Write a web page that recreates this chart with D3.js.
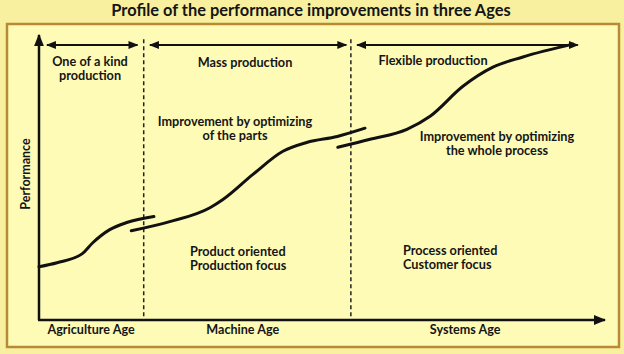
<!DOCTYPE html>
<html>
<head>
<meta charset="utf-8">
<script src="https://cdn.jsdelivr.net/npm/d3@7"></script>
<style>
  html, body { margin: 0; padding: 0; background: #f8f09f; }
  svg { display: block; }
  text { font-family: Lato, "Open Sans", sans-serif; font-weight: bold; fill: #151515; }
</style>
</head>
<body>
<div id="chart"></div>
<script>
// ages along the time axis (0-100), boundaries where the dashed lines sit
const ages = ['Agriculture Age', 'Machine Age', 'Systems Age'];
const ageCentres = [9.2, 36.0, 75.3];
const ageBounds = [18.5, 55.1];
const productionModes = ['One of a kind production', 'Mass production', 'Flexible production'];
const modeSpans = [[1.4, 17.4], [19.6, 54.3], [56.2, 95.2]];

// performance curve, one piece per age (time, performance)
const curveAgriculture = [
  [0, 18.7], [3.2, 20.1], [7.6, 23.2], [9.5, 27.1], [12.5, 31.7], [15.5, 34.2], [20.3, 36.3],
];
const curveMachine = [
  [16.3, 31.3], [23.1, 34.5], [30.2, 39.4], [32.5, 42.3], [37.8, 51.1],
  [43.1, 59.2], [47.3, 62.3], [52.7, 64.4], [57.6, 67.3],
];
const curveSystems = [
  [52.8, 60.6], [58.5, 63.4], [65.0, 66.9], [69.1, 71.5], [74.9, 82.0],
  [80.2, 88.7], [85.5, 92.3], [94.3, 96.8],
];

const width = 624, height = 354;
const svg = d3.select('#chart').append('svg')
  .attr('width', width)
  .attr('height', height);

// frame
svg.append('rect')
  .attr('x', 7).attr('y', 24)
  .attr('width', 612).attr('height', 323)
  .attr('fill', '#fefbb7')
  .attr('stroke', '#b98a35')
  .attr('stroke-width', 2.5);

svg.append('text')
  .attr('x', 311).attr('y', 16)
  .attr('text-anchor', 'middle')
  .style('font-size', '16.4px')
  .text('Profile of the performance improvements in three Ages');

const defs = svg.append('defs');
defs.append('marker')
  .attr('id', 'head')
  .attr('viewBox', '0 0 10 10')
  .attr('refX', 9).attr('refY', 5)
  .attr('markerWidth', 5).attr('markerHeight', 5)
  .attr('markerUnits', 'strokeWidth')
  .attr('orient', 'auto-start-reverse')
  .append('path')
  .attr('d', 'M0,1 L10,5 L0,9 Z')
  .attr('fill', '#111');

// scales
const x = d3.scaleLinear().domain([0, 100]).range([39, 605]);
const y = d3.scaleLinear().domain([0, 100]).range([320, 35]);

// axes, drawn as plain arrows
svg.append('line')
  .attr('x1', x(0)).attr('y1', y(0))
  .attr('x2', x(0)).attr('y2', y(100))
  .attr('stroke', '#111').attr('stroke-width', 2.5)
  .attr('marker-end', 'url(#head)');
svg.append('line')
  .attr('x1', x(0) - 1).attr('y1', y(0))
  .attr('x2', x(100)).attr('y2', y(0))
  .attr('stroke', '#111').attr('stroke-width', 2.5)
  .attr('marker-end', 'url(#head)');

// dashed age boundaries
svg.selectAll('.bound')
  .data(ageBounds)
  .enter()
  .append('line')
  .attr('class', 'bound')
  .attr('x1', d => x(d)).attr('x2', d => x(d))
  .attr('y1', y(98.5)).attr('y2', y(0))
  .attr('stroke', '#222')
  .attr('stroke-width', 1.5)
  .attr('stroke-dasharray', '4,3');

// double arrows for production modes
svg.selectAll('.span')
  .data(modeSpans)
  .enter()
  .append('line')
  .attr('class', 'span')
  .attr('x1', d => x(d[0])).attr('x2', d => x(d[1]))
  .attr('y1', y(96.5)).attr('y2', y(96.5))
  .attr('stroke', '#111')
  .attr('stroke-width', 2)
  .attr('marker-start', 'url(#head)')
  .attr('marker-end', 'url(#head)');

// curve
const line = d3.line()
  .x(d => x(d[0]))
  .y(d => y(d[1]))
  .curve(d3.curveMonotoneX);

svg.selectAll('.curve')
  .data([curveAgriculture, curveMachine, curveSystems])
  .enter()
  .append('path')
  .attr('class', 'curve')
  .attr('d', line)
  .attr('fill', 'none')
  .attr('stroke', '#111')
  .attr('stroke-width', 3)
  .attr('stroke-linecap', 'round');

// text labels
function label(lines, px, py, anchor) {
  const t = svg.append('text')
    .attr('x', px).attr('y', py)
    .attr('text-anchor', anchor || 'middle')
    .style('font-size', '12.7px');
  lines.forEach((s, i) => {
    t.append('tspan')
      .attr('x', px)
      .attr('dy', i === 0 ? 0 : 14)
      .text(s);
  });
}

label(['One of a kind', 'production'], 90, 66);
label([productionModes[1]], 245, 67);
label([productionModes[2]], 433, 65);
label(['Improvement by optimizing', 'of the parts'], 235, 126);
label(['Improvement by optimizing', 'the whole process'], 497, 141);
label(['Product oriented', 'Production focus'], 190, 256, 'start');
label(['Process oriented', 'Customer focus'], 403, 255, 'start');

// age names under the x axis
svg.selectAll('.age')
  .data(ages)
  .enter()
  .append('text')
  .attr('class', 'age')
  .attr('x', (d, i) => x(ageCentres[i]))
  .attr('y', 334)
  .attr('text-anchor', 'middle')
  .style('font-size', '12.6px')
  .text(d => d);

svg.append('text')
  .attr('transform', 'translate(30,174) rotate(-90)')
  .attr('text-anchor', 'middle')
  .style('font-size', '12.5px')
  .text('Performance');
</script>
</body>
</html>
